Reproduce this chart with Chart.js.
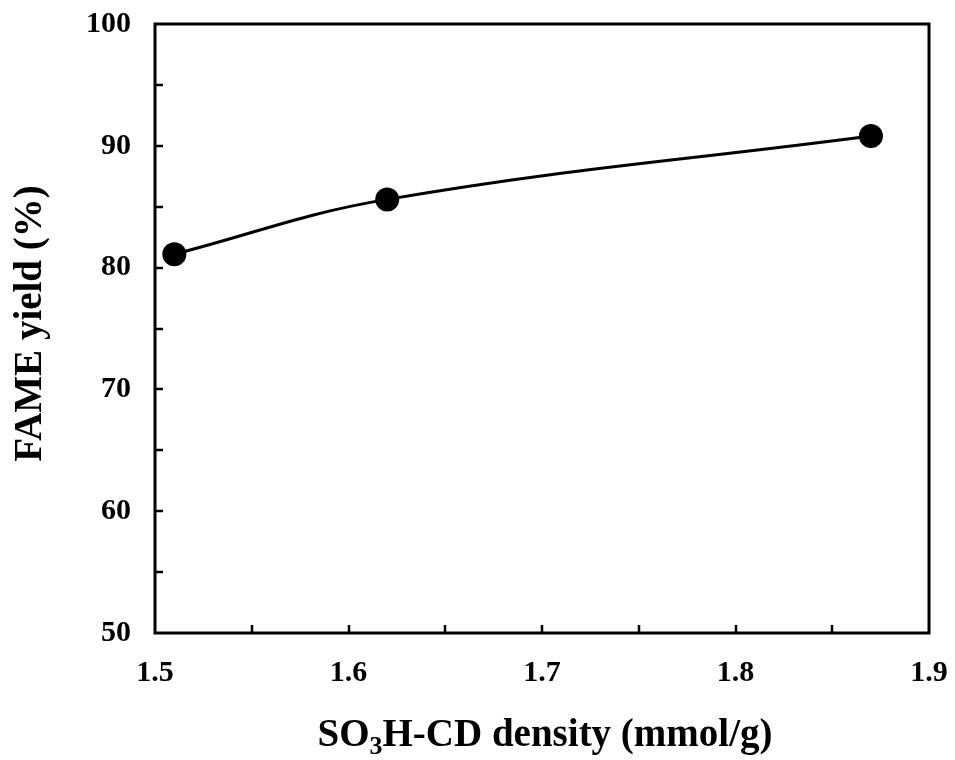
<!DOCTYPE html>
<html>
<head>
<meta charset="utf-8">
<script src="https://cdn.jsdelivr.net/npm/chart.js@4.4.0/dist/chart.umd.min.js"></script>
<style>
  html, body { margin: 0; padding: 0; background: #fff; }
  #wrap { width: 955px; height: 760px; }
</style>
</head>
<body>
<div id="wrap"><canvas id="chart" width="955" height="760"></canvas></div>
<script>
// data
const densities = [1.51, 1.62, 1.87];
const fameYield = [81.1, 85.6, 90.8];

// inward tick marks (every half step)
const xTickValues = [1.55, 1.6, 1.65, 1.7, 1.75, 1.8, 1.85];
const yTickValues = [55, 60, 65, 70, 75, 80, 85, 90, 95];

const xTitleParts = ['SO', '3', 'H-CD density (mmol/g)'];
const yTitle = 'FAME yield (%)';

const FONT = '"Liberation Serif", "Times New Roman", serif';

// frame, inside ticks and axis titles
const framePlugin = {
    id: 'frame',
    afterDraw(chart) {
        const { ctx, chartArea: a, scales } = chart;
        ctx.save();
        ctx.strokeStyle = '#000';
        ctx.lineWidth = 3;
        ctx.strokeRect(a.left, a.top, a.right - a.left, a.bottom - a.top);

        ctx.lineWidth = 2.5;
        ctx.beginPath();
        xTickValues.forEach(v => {
            const px = Math.round(scales.x.getPixelForValue(v));
            ctx.moveTo(px, a.bottom);
            ctx.lineTo(px, a.bottom - 8);
        });
        yTickValues.forEach(v => {
            const py = Math.round(scales.y.getPixelForValue(v));
            ctx.moveTo(a.left, py);
            ctx.lineTo(a.left + 8, py);
        });
        ctx.stroke();

        // x title with subscript
        ctx.fillStyle = '#000';
        ctx.textBaseline = 'alphabetic';
        ctx.textAlign = 'left';
        const big = 'bold 39px ' + FONT;
        const small = 'bold 26px ' + FONT;
        ctx.font = big;
        const w0 = ctx.measureText(xTitleParts[0]).width;
        const w2 = ctx.measureText(xTitleParts[2]).width;
        ctx.font = small;
        const w1 = ctx.measureText(xTitleParts[1]).width;
        const cx = (a.left + a.right) / 2 + 3;
        let x = cx - (w0 + w1 + w2) / 2;
        const base = 746;
        ctx.font = big;
        ctx.fillText(xTitleParts[0], x, base);
        x += w0;
        ctx.font = small;
        ctx.fillText(xTitleParts[1], x, base + 8);
        x += w1;
        ctx.font = big;
        ctx.fillText(xTitleParts[2], x, base);

        // y title
        ctx.translate(41, (a.top + a.bottom) / 2 - 5);
        ctx.rotate(-Math.PI / 2);
        ctx.textAlign = 'center';
        ctx.font = big;
        ctx.fillText(yTitle, 0, 0);
        ctx.restore();
    }
};

const ctx = document.getElementById('chart').getContext('2d');
new Chart(ctx, {
    type: 'line',
    data: {
        datasets: [{
            data: densities.map((d, i) => ({ x: d, y: fameYield[i] })),
            borderColor: '#000',
            backgroundColor: '#000',
            borderWidth: 3,
            pointRadius: 12,
            pointBackgroundColor: '#000',
            pointBorderWidth: 0,
            tension: 0.4,
            fill: false
        }]
    },
    options: {
        responsive: false,
        animation: false,
        layout: { padding: { top: 24, right: 26, left: 0, bottom: 0 } },
        plugins: {
            legend: { display: false },
            tooltip: { enabled: false }
        },
        scales: {
            x: {
                type: 'linear',
                min: 1.5,
                max: 1.9,
                grid: { display: false, drawTicks: false },
                border: { display: false },
                ticks: {
                    stepSize: 0.1,
                    padding: 22,
                    color: '#000',
                    font: { family: FONT, size: 30, weight: 'bold' },
                    maxRotation: 0,
                    callback: v => v.toFixed(1)
                },
                afterFit: s => {
                    s.height = 127;
                    s.paddingLeft = 0;
                    s.paddingRight = 0;
                }
            },
            y: {
                min: 50,
                max: 100,
                grid: { display: false, drawTicks: false },
                border: { display: false },
                ticks: {
                    stepSize: 10,
                    padding: 24,
                    color: '#000',
                    font: { family: FONT, size: 30, weight: 'bold' }
                },
                afterFit: s => {
                    s.width = 155;
                    s.paddingTop = 0;
                    s.paddingBottom = 0;
                }
            }
        }
    },
    plugins: [framePlugin]
});
</script>
</body>
</html>
